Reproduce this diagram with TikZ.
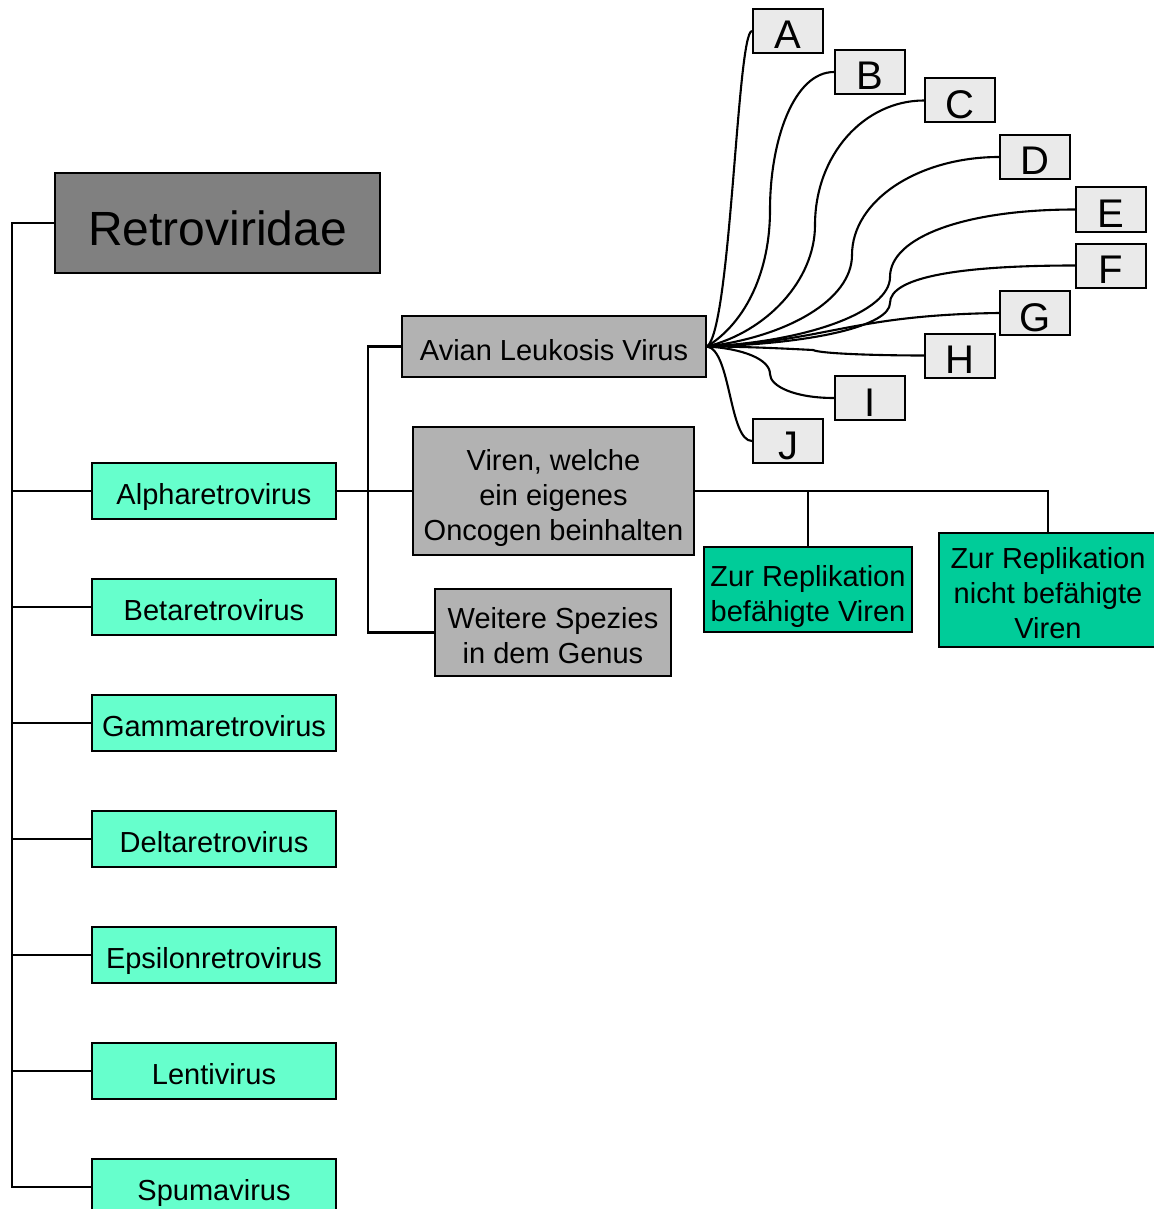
\documentclass[tikz,border=0pt]{standalone}
\usepackage{fontspec}
\setmainfont{Liberation Sans}
\definecolor{retrogray}{HTML}{808080}
\definecolor{midgray}{HTML}{B2B2B2}
\definecolor{palegray}{HTML}{EAEAEA}
\definecolor{mint}{HTML}{66FFCC}
\definecolor{tealgreen}{HTML}{00CC99}
\begin{document}
\begin{tikzpicture}[x=1pt,y=-1pt,
  base/.style={draw=black, line width=2pt, inner sep=0pt, align=center, text=black, font=\fontsize{29}{35}\selectfont},
  genus/.style={base, fill=mint, minimum width=244pt, minimum height=56pt, text height=27pt, text depth=0pt},
  grey/.style={base, fill=midgray},
  repl/.style={base, fill=tealgreen},
  letter/.style={base, fill=palegray, minimum width=70pt, minimum height=44pt, font=\fontsize{40}{44}\selectfont, text height=36pt, text depth=0pt},
  conn/.style={line width=2.1pt, black}]
\useasboundingbox (0,0) rectangle (1153,1209);

% family
\node[base, fill=retrogray, minimum width=325pt, minimum height=100pt, font=\fontsize{48}{50}\selectfont, text height=44pt, text depth=0pt] (retro) at (217.5,223) {Retroviridae};

% genera
\node[genus] (alpha) at (214,491) {Alpharetrovirus};
\node[genus] (beta) at (214,607) {Betaretrovirus};
\node[genus] (gamma) at (214,723) {Gammaretrovirus};
\node[genus] (delta) at (214,839) {Deltaretrovirus};
\node[genus] (eps) at (214,955) {Epsilonretrovirus};
\node[genus] (lenti) at (214,1071) {Lentivirus};
\node[genus] (spuma) at (214,1187) {Spumavirus};

% alpharetrovirus subdivision
\node[grey, minimum width=304pt, minimum height=61pt, text height=27pt, text depth=0pt] (avl) at (554,346.5) {Avian Leukosis Virus};
\node[grey, minimum width=281pt, minimum height=128pt] (viren) at (553.5,491) {\rule{0pt}{35pt}Viren, welche\\ein eigenes\\Oncogen beinhalten};
\node[grey, minimum width=236pt, minimum height=87pt] (weit) at (553,632.5) {\rule{0pt}{28pt}Weitere Spezies\\in dem Genus};
\node[repl, minimum width=208pt, minimum height=85pt] (repla) at (808,589.5) {\rule{0pt}{35pt}Zur Replikation\\bef\"ahigte Viren};
\node[repl, minimum width=218pt, minimum height=114pt] (replb) at (1048,590) {\rule{0pt}{28pt}Zur Replikation\\nicht bef\"ahigte\\Viren};

% letters
\node[letter] (A) at (788,31) {A};
\node[letter] (B) at (870,72) {B};
\node[letter] (C) at (960,100.5) {C};
\node[letter] (D) at (1035,157) {D};
\node[letter] (E) at (1111,209.5) {E};
\node[letter] (F) at (1111,265.5) {F};
\node[letter] (G) at (1035,313) {G};
\node[letter] (H) at (960,355.5) {H};
\node[letter] (I) at (870,398) {I};
\node[letter] (J) at (788,441) {J};

% trunk
\coordinate (t0) at (12,223);
\draw[conn] (retro.west) -- (t0) |- (spuma.west);
\foreach \g in {alpha,beta,gamma,delta,eps,lenti}
  \draw[conn] (t0 |- \g.west) -- (\g.west);

% alpha branches
\coordinate (bx) at (368,491);
\draw[conn] (alpha.east) -- (viren.west);
\draw[conn] (avl.west) -| (bx) |- (weit.west);
\draw[conn] (viren.east) -| (replb.north);
\draw[conn] (viren.east -| repla.north) -- (repla.north);

% curves to letters
\coordinate (mB) at (770,210);
\coordinate (mC) at (815,225);
\coordinate (mD) at (852,255);
\coordinate (mE) at (890,277);
\coordinate (mF) at (890,303);
\coordinate (mH) at (813,350);
\coordinate (mI) at (770,374);
\draw[conn] (avl.east) .. controls +(24,-16.5) and +(-15,0) .. (A.west);
\draw[conn] (avl.east) .. controls +(40,-25) and +(0,60) .. (mB) .. controls +(0,-70) and +(-40,0) .. (B.west);
\draw[conn] (avl.east) .. controls +(60,-15) and +(0,55) .. (mC) .. controls +(0,-70) and +(-60,0) .. (C.west);
\draw[conn] (avl.east) .. controls +(80,-10) and +(0,45) .. (mD) .. controls +(0,-55) and +(-80,0) .. (D.west);
\draw[conn] (avl.east) .. controls +(100,-5) and +(0,35) .. (mE) .. controls +(0,-40) and +(-110,0) .. (E.west);
\draw[conn] (avl.east) .. controls +(110,-3) and +(0,22) .. (mF) .. controls +(0,-25) and +(-120,0) .. (F.west);
\draw[conn] (avl.east) .. controls +(120,-5) and +(-150,2) .. (G.west);
\draw[conn] (avl.east) .. controls +(40,0) and +(-20,-1) .. (mH) .. controls +(8,4) and +(-40,0) .. (H.west);
\draw[conn] (avl.east) .. controls +(35,2) and +(0,-15) .. (mI) .. controls +(0,12) and +(-40,0) .. (I.west);
\draw[conn] (avl.east) .. controls +(24,3.5) and +(-23,0) .. (J.west);
\end{tikzpicture}
\end{document}
